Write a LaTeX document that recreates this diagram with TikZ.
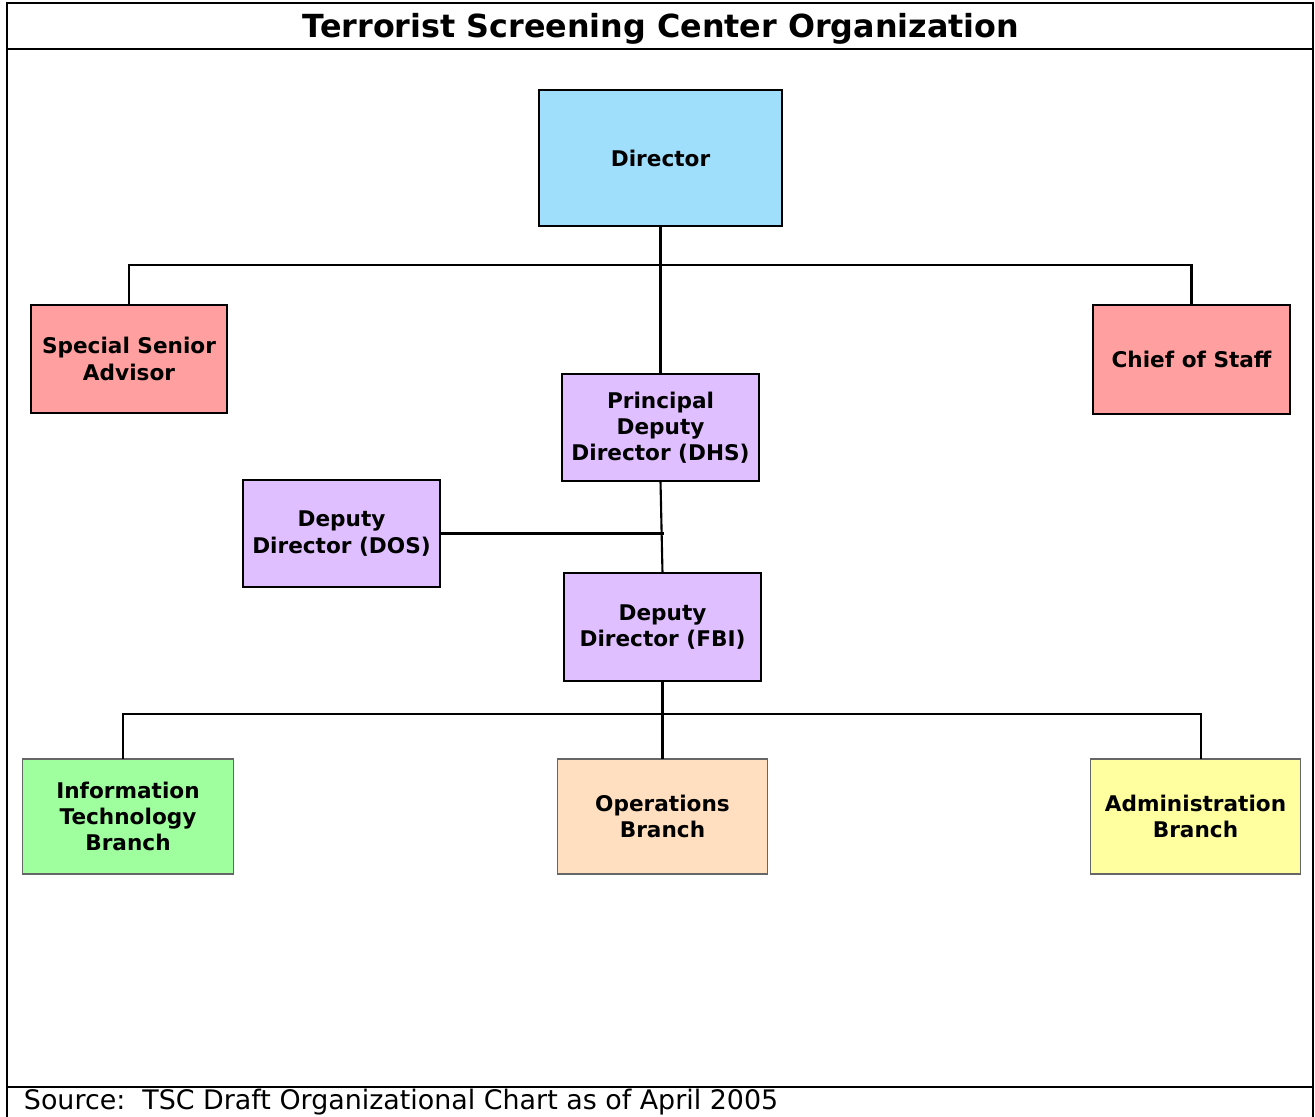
\documentclass[tikz,border=0pt]{standalone}
\usepackage{fontspec}
\setmainfont{DejaVu Sans}
\definecolor{dirblue}{HTML}{9FDFFB}
\definecolor{staffpink}{HTML}{FF9F9F}
\definecolor{deplav}{HTML}{DFBFFF}
\definecolor{itgreen}{HTML}{9FFF9F}
\definecolor{opspeach}{HTML}{FFDFBF}
\definecolor{admyellow}{HTML}{FFFF9F}
\begin{document}
\begin{tikzpicture}[x=0.02cm,y=-0.02cm,line width=1.1pt,
  unit/.style={shape=rectangle,draw=black,line width=1.1pt,inner sep=0pt,outer sep=0pt,align=center,font=\fontsize{12.3}{14.9}\selectfont\bfseries},
  staff/.style={unit,fill=staffpink,minimum width=3.93cm,minimum height=2.17cm},
  deputy/.style={unit,fill=deplav,minimum width=3.93cm,minimum height=2.15cm},
  branch/.style={unit,draw=black!60,line width=0.6pt,minimum width=4.21cm,minimum height=2.3cm},
  conn/.style={draw=black,line width=1.2pt}]
\useasboundingbox (0,0) rectangle (1315,1116);
\def\frameL{7}
\def\frameR{1313}

% frame with title and source rows
\draw (\frameL,3) rectangle (\frameR,1130);
\draw (\frameL,49) -- (\frameR,49);
\draw (\frameL,1087) -- (\frameR,1087);
\node[font=\fontsize{18.1}{20}\selectfont\bfseries] (title) at (661,29) {Terrorist Screening Center Organization};
\node[anchor=west,inner sep=0pt,font=\fontsize{15.3}{18}\selectfont] (source) at (23,1102.5) {Source:\ \ TSC Draft Organizational Chart as of April 2005};

\node[unit,fill=dirblue,minimum width=4.86cm,minimum height=2.72cm] (DIR) at (660.5,158) {Director};
\node[staff] (SSA) at (129,359) {Special Senior\\Advisor};
\node[staff] (COS) at (1191.5,359.5) {Chief of Staff};
\node[deputy] (PDD) at (660.5,427.5) {Principal\\Deputy\\Director (DHS)};
\node[deputy] (DOS) at (341.5,533.5) {Deputy\\Director (DOS)};
\node[deputy] (FBI) at (662.5,627) {Deputy\\Director (FBI)};
\node[branch,fill=itgreen] (IT) at (128,816.5) {Information\\Technology\\Branch};
\node[branch,fill=opspeach] (OPS) at (662.5,816.5) {Operations\\Branch};
\node[branch,fill=admyellow] (ADM) at (1195.5,816.5) {Administration\\Branch};

\coordinate (jTop) at (660.5,265);
\coordinate (jMid) at (664,533.5);
\coordinate (jLow) at (662,714);

\draw[conn] (DIR.south) -- (PDD.north);
\draw[conn] (SSA.north) |- (jTop) -| (COS.north);
\draw[conn] (PDD.south) -- (FBI.north);
\draw[conn] (DOS.east) -- (jMid);
\draw[conn] (FBI.south) -- (OPS.north);
\draw[conn] ([xshift=-0.1cm]IT.north) |- (jLow) -| ([xshift=0.11cm]ADM.north);
\end{tikzpicture}
\end{document}
